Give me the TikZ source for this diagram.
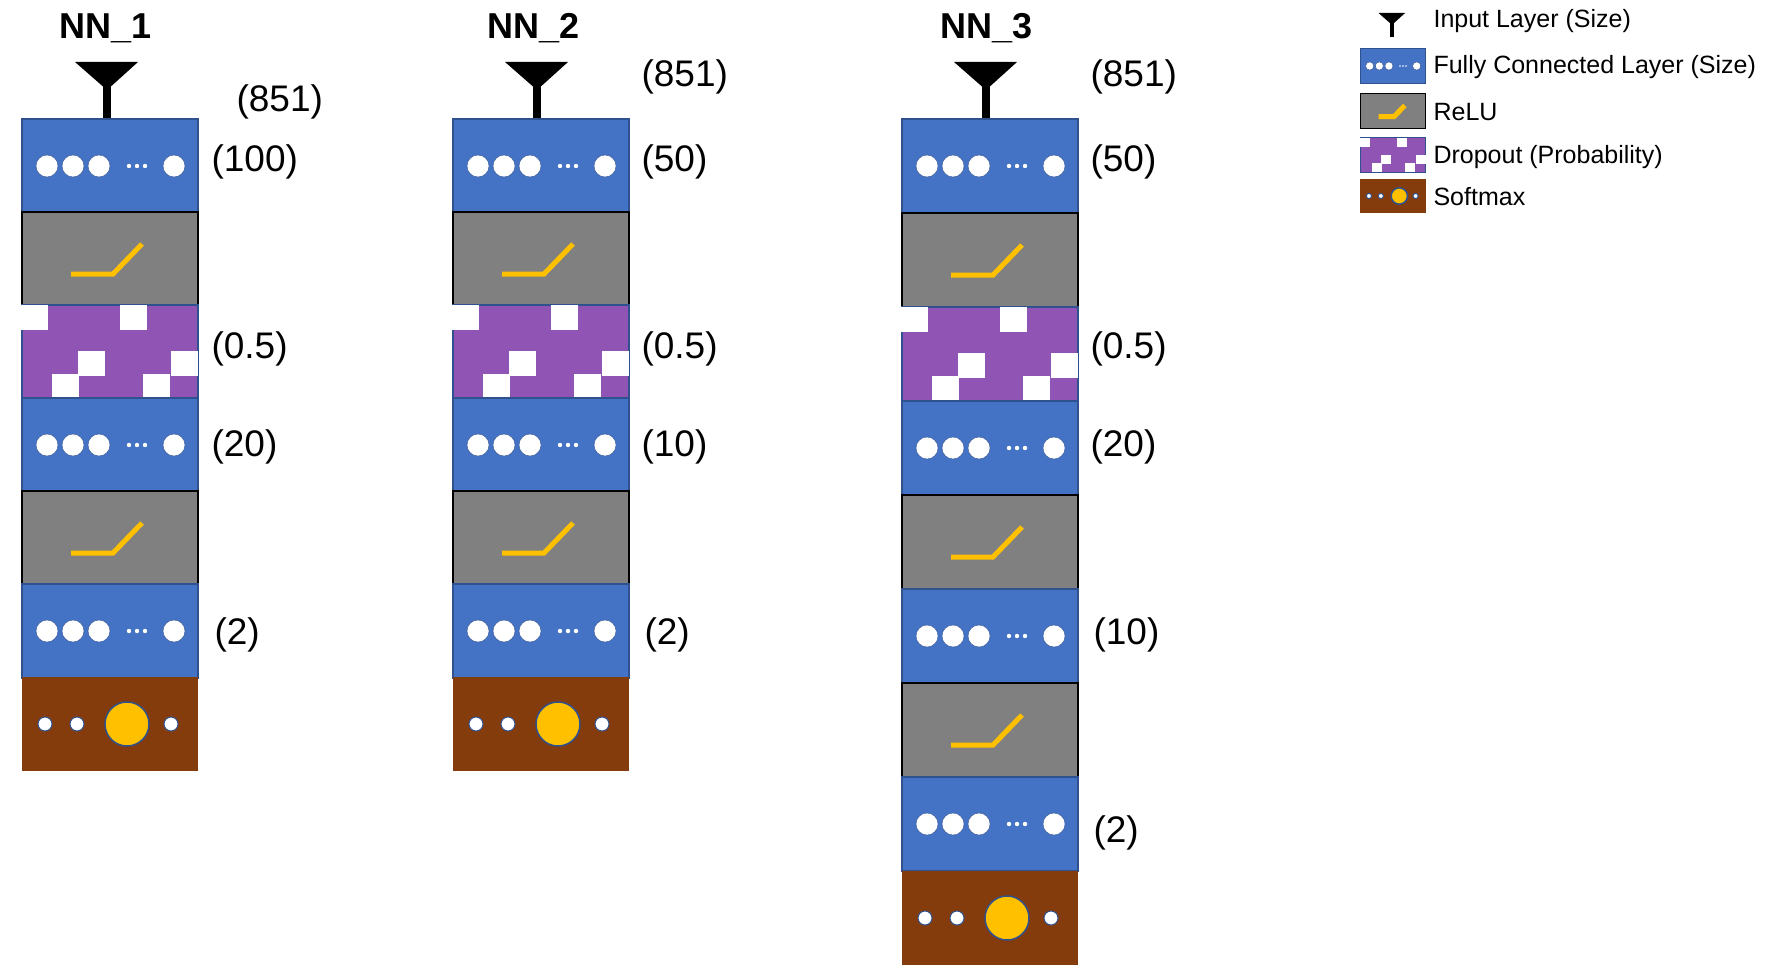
\documentclass[tikz,border=0pt]{standalone}
\usepackage{fontspec}
\setmainfont{Liberation Sans}
\usetikzlibrary{positioning}

\definecolor{fcblue}{HTML}{4472C4}
\definecolor{fcedge}{HTML}{2F528F}
\definecolor{relugray}{HTML}{808080}
\definecolor{reluline}{HTML}{FFC000}
\definecolor{droppurple}{HTML}{9054B5}
\definecolor{softbrown}{HTML}{843C0C}

\tikzset{
  block/.style={minimum width=176pt, minimum height=94pt, inner sep=0pt, line width=1.2pt},
  fcbox/.style={block, fill=fcblue, draw=fcedge},
  relubox/.style={block, fill=relugray, draw=black},
  dropbox/.style={block, fill=droppurple, draw=fcedge},
  softbox/.style={block, fill=softbrown, draw=none},
  size/.style={anchor=west, font=\fontsize{37}{40}\selectfont},
  title/.style={font=\fontsize{36}{40}\selectfont\bfseries},
  legtext/.style={anchor=west, font=\fontsize{25}{28}\selectfont},
  legicon/.style={scale=0.37, transform shape},
  fclayer/.pic={
    \node[fcbox] (-box) {};
    \foreach \x in {-63,-37,-11,64} \fill[white, draw=fcedge] (\x,0) circle (11);
    \foreach \x in {19,27,35} \fill[white] (\x,0) circle (2.2);
  },
  relulayer/.pic={
    \node[relubox] (-box) {};
    \draw[reluline, line width=5pt] (-39,15) -- (3,15) -- (32,-15);
  },
  droplayer/.pic={
    \node[dropbox] (-box) {};
    \foreach \a/\b in {-89/-47, 10/-47, -32/-1, 61/-1, -58/22, 33/22}
      \fill[white] (\a,\b) rectangle ++(27,25);
  },
  softlayer/.pic={
    \node[softbox] (-box) {};
    \foreach \x in {-65,-33,61} \fill[white, draw=fcedge, line width=1pt] (\x,0) circle (7);
    \fill[reluline, draw=fcedge, line width=1.5pt] (17,0) circle (22);
  },
  inputlayer/.pic={
    \fill[black] (-32,0) -- (31,0) -- (0,28) -- cycle;
    \fill[black] (-4,20) rectangle (4,57);
  }
}

\begin{document}
\begin{tikzpicture}[x=1pt, y=-1pt]
  \useasboundingbox (0,0) rectangle (1769,971);

  % NN_1
  \node[title] (t1) at (106,28) {NN\_1};
  \pic (in1) at (107,62) {inputlayer};
  \pic (a1) at (110,166) {fclayer};
  \pic (a2) at (110,259) {relulayer};
  \pic (a3) at (110,352) {droplayer};
  \pic (a4) at (110,445) {fclayer};
  \pic (a5) at (110,538) {relulayer};
  \pic (a6) at (110,631) {fclayer};
  \pic (a7) at (110,724) {softlayer};
  \node[size] (la0) at (233,102) {(851)};
  \node[size] (la1) at (208,162) {(100)};
  \node[size] (la3) at (208,349) {(0.5)};
  \node[size] (la4) at (208,447) {(20)};
  \node[size] (la6) at (211,635) {(2)};

  % NN_2
  \node[title] (t2) at (534,28) {NN\_2};
  \pic (in2) at (537,62) {inputlayer};
  \pic (b1) at (541,166) {fclayer};
  \pic (b2) at (541,259) {relulayer};
  \pic (b3) at (541,352) {droplayer};
  \pic (b4) at (541,445) {fclayer};
  \pic (b5) at (541,538) {relulayer};
  \pic (b6) at (541,631) {fclayer};
  \pic (b7) at (541,724) {softlayer};
  \node[size] (lb0) at (638,77) {(851)};
  \node[size] (lb1) at (638,162) {(50)};
  \node[size] (lb3) at (638,349) {(0.5)};
  \node[size] (lb4) at (638,447) {(10)};
  \node[size] (lb6) at (641,635) {(2)};

  % NN_3
  \node[title] (t3) at (987,28) {NN\_3};
  \pic (in3) at (986,62) {inputlayer};
  \pic (c1) at (990,166) {fclayer};
  \pic (c2) at (990,260) {relulayer};
  \pic (c3) at (990,354) {droplayer};
  \pic (c4) at (990,448) {fclayer};
  \pic (c5) at (990,542) {relulayer};
  \pic (c6) at (990,636) {fclayer};
  \pic (c7) at (990,730) {relulayer};
  \pic (c8) at (990,824) {fclayer};
  \pic (c9) at (990,918) {softlayer};
  \node[size] (lc0) at (1087,77) {(851)};
  \node[size] (lc1) at (1087,162) {(50)};
  \node[size] (lc3) at (1087,349) {(0.5)};
  \node[size] (lc4) at (1087,447) {(20)};
  \node[size] (lc6) at (1090,635) {(10)};
  \node[size] (lc8) at (1090,833) {(2)};

  % legend
  \pic[legicon, scale=1.14] (k1) at (1392,13) {inputlayer};
  \pic[legicon] (k2) at (1393,66) {fclayer};
  \pic[legicon] (k3) at (1393,111) {relulayer};
  \pic[legicon] (k4) at (1393,155) {droplayer};
  \pic[legicon] (k5) at (1393,196) {softlayer};
  \node[legtext] (kt1) at (1430,21) {Input Layer (Size)};
  \node[legtext] (kt2) at (1430,67) {Fully Connected Layer (Size)};
  \node[legtext] (kt3) at (1430,112) {ReLU};
  \node[legtext] (kt4) at (1430,157) {Dropout (Probability)};
  \node[legtext] (kt5) at (1430,197) {Softmax};
\end{tikzpicture}
\end{document}
